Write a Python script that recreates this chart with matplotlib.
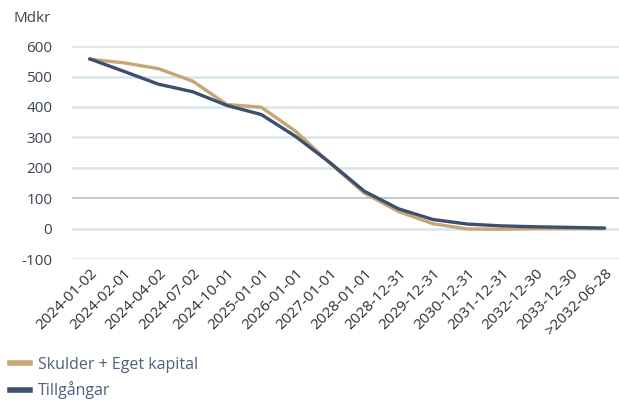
import matplotlib.pyplot as plt
from matplotlib.lines import Line2D

plt.rcParams['font.family'] = ['Open Sans', 'DejaVu Sans']

dates = ["2024-01-02", "2024-02-01", "2024-04-02", "2024-07-02", "2024-10-01",
         "2025-01-01", "2026-01-01", "2027-01-01", "2028-01-01", "2028-12-31",
         "2029-12-31", "2030-12-31", "2031-12-31", "2032-12-30", "2033-12-30",
         ">2032-06-28"]
skulder = [557, 545, 526, 485, 408, 399, 320, 215, 117, 56, 16, -1, -2, 0, 0, 0]
tillgangar = [558, 517, 475, 450, 405, 375, 303, 217, 123, 65, 30, 15, 9, 6, 4, 2]

c_tan = "#c8a574"
c_blue = "#3d4f6e"
txt = "#3b4452"

fig = plt.figure(figsize=(6.19, 4.01), dpi=100)
ax = fig.add_axes([0.116, 0.354, 0.884, 0.531])

x = list(range(len(dates)))
for v in [-100, 0, 200, 300, 400, 500, 600]:
    ax.axhline(v, color="#d8e5ee", lw=1.8, zorder=0)
ax.axhline(100, color="#b6bec6", lw=1.2, zorder=0)

ax.plot(x, skulder, color=c_tan, lw=2.4, solid_capstyle="round", zorder=2)
ax.plot(x, tillgangar, color=c_blue, lw=2.4, solid_capstyle="round", zorder=3)

ax.set_xlim(-0.52, 15.42)
ax.set_ylim(-100, 600)
ax.set_yticks(range(-100, 601, 100))
ax.set_yticklabels([str(v) for v in range(-100, 601, 100)], fontsize=11, color=txt)
ax.set_xticks(x)
ax.set_xticklabels(dates, rotation=45, ha="right", rotation_mode="anchor",
                   fontsize=11, color="#2b2f36")
ax.tick_params(axis="y", length=0, pad=14)
ax.tick_params(axis="x", length=0, pad=5)
for s in ax.spines.values():
    s.set_visible(False)

fig.text(0.022, 0.955, "Mdkr", fontsize=11, color=txt, va="center")

handles = [Line2D([], [], color=c_tan, lw=4),
           Line2D([], [], color=c_blue, lw=4)]
leg = fig.legend(handles, ["Skulder + Eget kapital", "Tillgångar"],
                 loc="lower left", bbox_to_anchor=(0.0, -0.02), frameon=False,
                 fontsize=11.5, handlelength=1.3, handletextpad=0.5,
                 labelspacing=0.55, borderaxespad=0.2)
for t in leg.get_texts():
    t.set_color("#4f5f80")

fig.savefig("out.png", dpi=100)
